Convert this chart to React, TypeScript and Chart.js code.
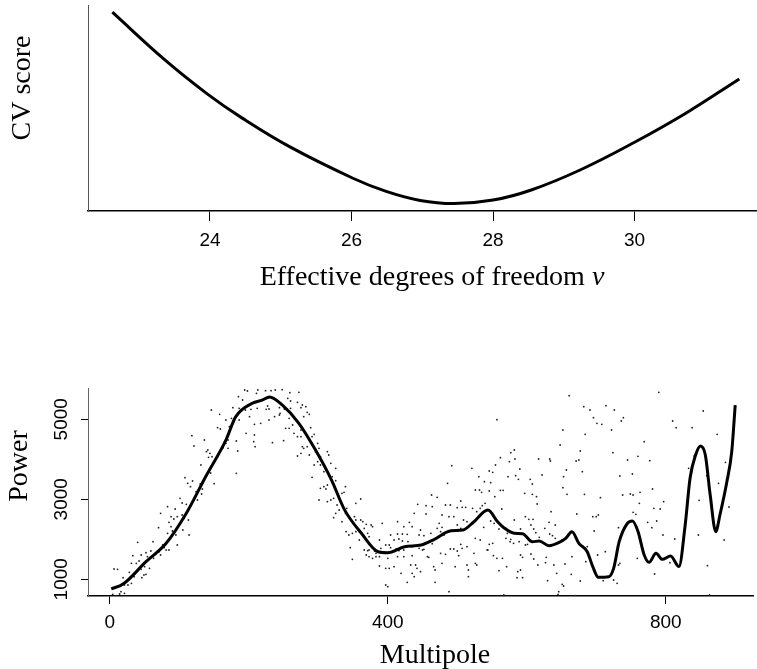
import React, { useEffect, useRef } from 'react';
import { Chart, registerables } from 'chart.js';

Chart.register(...registerables);

// ---------- Top panel: CV score against effective degrees of freedom ----------
const DOF = [22.62, 23.35, 23.97, 24.45, 25.13, 26.02, 26.49, 26.97, 27.45, 28.0, 28.54, 29.23, 29.98, 30.73, 31.48];
const CV_SCORE = [0.965, 0.737, 0.566, 0.452, 0.311, 0.159, 0.095, 0.051, 0.036, 0.053, 0.102, 0.199, 0.33, 0.476, 0.641];
const DOF_TICKS = [24, 26, 28, 30];

// ---------- Bottom panel: power spectrum ----------
const FIT_MULTIPOLE = [2, 19, 52, 81, 110, 138, 167, 181, 205, 219, 230, 248, 272, 296, 319, 338, 362, 386, 400, 424,
  448, 467, 491, 508, 524, 544, 558, 567, 582, 594, 608, 618, 632, 646, 656, 665, 675, 687, 695, 703,
  718, 725, 733, 744, 752, 760, 769, 776, 786, 795, 807, 819, 828, 835, 843, 850, 857, 864, 872, 878,
  888, 895, 900];
const FIT_POWER = [760, 880, 1440, 1900, 2650, 3570, 4480, 5060, 5400, 5480, 5560, 5360, 4900, 4230, 3480, 2730, 2150, 1690, 1665, 1815,
  1857, 2000, 2215, 2232, 2440, 2730, 2440, 2290, 2150, 2140, 1940, 1957, 1840, 1915, 2024, 2190, 1900, 1690, 1315, 1050,
  1065, 1274, 1940, 2380, 2457, 2200, 1607, 1424, 1649, 1499, 1582, 1317, 2357, 3524, 4107, 4332, 4107, 3107, 2190, 2607,
  3440, 4190, 5357];

const OBS_MULTIPOLE = [
  146, 158, 155, 159, 118, 136, 121, 141, 139, 144,
  147, 142, 148, 131, 145, 150, 108, 112, 119, 116,
  130, 133, 124, 132, 126, 121, 101, 104, 110, 83,
  73, 94, 88, 97, 92, 85, 107, 113, 104, 70,
  88, 90, 95, 105, 114, 83, 62, 40, 76, 78,
  81, 85, 97, 59, 71, 66, 73, 63, 54, 52,
  45, 33, 38, 31, 42, 50, 45, 57, 49, 52,
  46, 35, 28, 19, 21, 26, 31, 6, 11, 16,
  21, 9, 14, 4,
  194, 198, 213, 211, 224, 232, 238, 248, 259, 272,
  185, 191, 256, 260, 203, 270, 277, 282, 177, 186,
  195, 203, 212, 225, 227, 229, 244, 251, 260, 275,
  284, 287, 279, 201, 237, 244, 245, 258, 167, 175,
  186, 208, 217, 229, 253, 258, 263, 275, 289, 172,
  196, 208, 265, 270, 275, 291, 294, 170, 165, 167,
  182, 207, 234, 250, 163, 170, 184, 209, 277, 279,
  284, 291, 299, 301, 296, 275, 287, 270, 313, 315,
  303, 299, 294, 303, 318, 325, 308, 182, 291, 320,
  325, 308, 303, 311, 313, 339, 334, 337, 301, 313,
  318, 322, 327, 330, 325, 322, 339, 341, 344, 334,
  340, 344, 349, 346, 349, 330,
  492, 521, 531, 486, 539, 526, 532, 535, 540, 536,
  463, 471, 361, 354, 505, 500, 507, 512, 522, 528,
  533, 443, 455, 464, 483, 490, 455, 478, 488, 495,
  438, 509, 514, 354, 352, 361, 364, 369, 376, 378,
  392, 414, 431, 423, 435, 474, 471, 478, 500, 505,
  447, 354, 359, 366, 371, 373, 404, 414, 421, 428,
  416, 421, 429, 409, 359, 388, 445, 452, 462, 476,
  481, 538, 526, 533, 366, 371, 373, 381, 383, 390,
  397, 402, 404, 412, 416, 423, 435, 445, 450, 452,
  464, 490, 495, 500, 507, 514, 505, 369, 373, 378,
  383, 388, 400, 414, 423, 435, 457, 459, 476, 483,
  502, 524, 543, 388, 397, 402, 409, 433, 440, 442,
  447, 466, 468, 478, 497, 514, 516, 528, 526, 419,
  435, 438, 516, 397, 400, 428, 468, 488,
  661, 682, 691, 714, 726, 696, 701, 708, 557, 722,
  652, 684, 648, 582, 577, 562, 575, 583, 617, 633,
  634, 671, 675, 677, 724, 555, 546, 551, 590, 657,
  680, 622, 653, 573, 584, 588, 605, 608, 548, 652,
  562, 566, 546, 554, 597, 608, 614, 658, 683, 706,
  734, 615, 564, 635, 672, 695, 700, 703, 598, 603,
  609, 582, 548, 553, 632, 641, 606, 610, 560, 591,
  626, 732, 697, 613, 633, 637, 572, 570, 577, 576,
  589, 581, 618, 641, 651, 598, 601, 546, 551, 687,
  713, 544, 552, 557, 565, 591, 594, 606, 610, 628,
  655, 665, 685, 702, 616, 627, 639, 571, 560, 587,
  591, 586, 594, 643, 664, 630, 651, 653, 677, 710,
  730, 725, 732, 734, 646, 645, 567, 670,
  790, 854, 739, 736, 810, 815, 838, 874, 769, 760,
  745, 777, 841, 886, 833, 752, 859, 876, 781, 763,
  738, 749, 753, 797, 762, 848, 891, 783, 792, 753,
  757, 774, 787, 780, 796, 813, 847, 884, 759, 806,
  784, 860, 863,
];

const OBS_POWER = [
  5232, 5124, 4790, 4757, 4590, 4482, 4332, 4232, 4190, 4149,
  4065, 4049, 3890, 3857, 3657, 3390, 3540, 3399, 3457, 3315,
  3382, 3257, 3190, 3132, 2982, 2982, 3024, 2907, 2874, 2815,
  2649, 2757, 2565, 2565, 2507, 2424, 2524, 2482, 2607, 2290,
  2315, 2207, 2107, 2232, 2107, 2149, 1940, 1924, 1857, 1790,
  1732, 1732, 1857, 1707, 1690, 1624, 1607, 1524, 1565, 1665,
  1607, 1590, 1399, 1399, 1457, 1315, 1249, 1274, 1107, 1124,
  1040, 1065, 1174, 1040, 857, 857, 899, 1257, 1249, 690,
  649, 590, 632, 624,
  5732, 5707, 5732, 5649, 5715, 5715, 5732, 5740, 5665, 5674,
  5565, 5482, 5524, 5457, 5399, 5424, 5357, 5315, 5290, 5274,
  5232, 5249, 5274, 5249, 5332, 5257, 5290, 5257, 5274, 5290,
  5174, 5124, 5065, 5065, 5065, 5107, 5149, 5024, 4982, 5024,
  4982, 4874, 4899, 4982, 4774, 4774, 4857, 4732, 4790, 4815,
  4649, 4607, 4649, 4565, 4565, 4565, 4624, 4482, 4440, 4399,
  4457, 4440, 4415, 4465, 4290, 4274, 4207, 4315, 4315, 4274,
  4315, 4399, 4399, 4274, 4190, 4149, 4107, 4082, 4190, 4107,
  4065, 3940, 3857, 3857, 3899, 3774, 3690, 3649, 3549, 3565,
  3465, 3315, 3274, 3257, 3357, 3315, 3149, 3174, 2982, 2940,
  2982, 3024, 2857, 2732, 2649, 2540, 2649, 2774, 2565, 2440,
  2190, 2107, 2149, 1790, 1499, 3065,
  3840, 3774, 3565, 3399, 3440, 3232, 3232, 3174, 2899, 2840,
  3107, 3049, 3007, 2899, 2957, 2790, 2799, 2799, 2774, 2690,
  2774, 2874, 2840, 2815, 2857, 2857, 2632, 2607, 2565, 2565,
  2649, 2482, 2440, 2482, 2565, 2482, 2440, 2374, 2357, 2315,
  2399, 2440, 2424, 2315, 2315, 2399, 2274, 2299, 2357, 2274,
  2232, 2190, 2190, 2274, 2149, 2065, 2107, 2132, 2132, 2124,
  2007, 1957, 1940, 1982, 1982, 1982, 2107, 2090, 2149, 2190,
  2107, 2299, 2024, 1982, 1732, 1715, 1732, 1707, 1649, 1774,
  1857, 1857, 1790, 1757, 1715, 1732, 1815, 1774, 1732, 1749,
  1890, 1757, 1757, 1707, 1774, 1815, 1874, 1607, 1565, 1524,
  1565, 1565, 1524, 1565, 1565, 1590, 1565, 1549, 1649, 1624,
  1590, 1649, 1732, 1332, 1274, 1274, 1315, 1357, 1357, 1274,
  1190, 1315, 1232, 1399, 1315, 1357, 1232, 1357, 1399, 1149,
  1149, 1065, 1065, 857, 815, 924, 924, 690,
  5590, 5315, 5232, 5340, 5232, 5040, 4899, 4874, 4990, 4732,
  4732, 4624, 4357, 4232, 4165, 4040, 3940, 4007, 4007, 4007,
  3957, 3957, 3982, 4207, 4165, 3857, 3707, 3674, 3757, 3732,
  3690, 3607, 3565, 3565, 3590, 3499, 3499, 3382, 3415, 3290,
  3224, 3224, 3207, 3065, 3149, 3124, 3065, 3124, 3124, 3040,
  3582, 2882, 2757, 2690, 2632, 2565, 2565, 2607, 2565, 2499,
  2499, 2482, 2457, 2399, 2424, 2357, 2357, 2257, 2257, 2257,
  2274, 2290, 2207, 2165, 2132, 2090, 2149, 2024, 1999, 1940,
  1940, 1899, 2049, 2024, 1982, 1857, 1874, 1874, 1899, 1815,
  1690, 1732, 1590, 1524, 1524, 1607, 1549, 1632, 1507, 1549,
  1382, 1565, 1440, 1607, 1357, 1415, 1357, 1315, 1215, 1190,
  1232, 1040, 1040, 1149, 1124, 965, 874, 832, 957, 965,
  899, 982, 1357, 1399, 690, 624, 607, 590,
  5674, 5207, 5040, 4957, 4957, 4790, 4790, 4624, 4440, 4074,
  3982, 3965, 4082, 3924, 3774, 3632, 3590, 3399, 3257, 3174,
  3107, 3132, 3107, 2940, 2899, 2974, 2807, 2774, 2757, 2674,
  2624, 2424, 2457, 2290, 2107, 2007, 2107, 1982, 1524, 1415,
  1132, 1340, 607,
];
const MULTIPOLE_TICKS = [0, 400, 800];
const POWER_TICKS = [1000, 3000, 5000];

const SERIF = '"Liberation Serif", "Times New Roman", serif';
const SANS = '"Liberation Sans", Arial, sans-serif';

type TitleSpec = { text: string; italic?: string; x: number; y: number; rotate?: boolean };

function makeTitles(id: string, items: TitleSpec[]) {
  return {
    id,
    afterDraw(chart: any) {
      const ctx = chart.ctx as CanvasRenderingContext2D;
      ctx.save();
      ctx.fillStyle = '#000';
      ctx.textBaseline = 'alphabetic';
      ctx.textAlign = 'left';
      for (const t of items) {
        ctx.save();
        ctx.translate(t.x, t.y);
        if (t.rotate) ctx.rotate(-Math.PI / 2);
        ctx.font = `28px ${SERIF}`;
        const w1 = ctx.measureText(t.text).width;
        let w2 = 0;
        if (t.italic) {
          ctx.font = `italic 28px ${SERIF}`;
          w2 = ctx.measureText(t.italic).width;
        }
        const start = -(w1 + w2) / 2;
        ctx.font = `28px ${SERIF}`;
        ctx.fillText(t.text, start, 0);
        if (t.italic) {
          ctx.font = `italic 28px ${SERIF}`;
          ctx.fillText(t.italic, start + w1, 0);
        }
        ctx.restore();
      }
      ctx.restore();
    },
  };
}

const plainLabel = (v: any) => String(v);

export default function App() {
  const topRef = useRef<HTMLCanvasElement>(null);
  const botRef = useRef<HTMLCanvasElement>(null);

  useEffect(() => {
    const topChart = new Chart(topRef.current as HTMLCanvasElement, {
      type: 'line',
      data: {
        datasets: [
          {
            data: DOF.map((x, i) => ({ x, y: CV_SCORE[i] })),
            borderColor: '#000',
            borderWidth: 3,
            pointRadius: 0,
            tension: 0.4,
            fill: false,
          },
        ],
      },
      options: {
        responsive: false,
        animation: false,
        events: [],
        layout: { padding: { top: 5, left: 0, right: 0, bottom: 0 } },
        plugins: { legend: { display: false }, tooltip: { enabled: false } },
        scales: {
          x: {
            type: 'linear',
            min: 22.276,
            max: 31.73,
            afterBuildTicks: (s: any) => {
              s.ticks = DOF_TICKS.map((v) => ({ value: v }));
            },
            afterFit: (s: any) => {
              s.height = 109;
            },
            grid: { display: true, drawOnChartArea: false, drawTicks: true, tickLength: 10, color: '#000', lineWidth: 1 },
            border: { display: true, color: '#000', width: 1.5 },
            ticks: { color: '#000', font: { family: SANS, size: 19 }, padding: 8, maxRotation: 0, autoSkip: false, callback: plainLabel },
          },
          y: {
            type: 'linear',
            min: 0,
            max: 1,
            afterFit: (s: any) => {
              s.width = 88;
            },
            grid: { display: false },
            border: { display: true, color: '#555', width: 1 },
            ticks: { display: false },
          },
        },
      } as any,
      plugins: [
        makeTitles('topTitles', [
          { text: 'Effective degrees of freedom ', italic: 'ν', x: 432, y: 285 },
          { text: 'CV score', x: 30, y: 88, rotate: true },
        ]),
      ],
    });

    const botChart = new Chart(botRef.current as HTMLCanvasElement, {
      type: 'scatter',
      data: {
        datasets: [
          {
            type: 'line',
            data: FIT_MULTIPOLE.map((x, i) => ({ x, y: FIT_POWER[i] })),
            borderColor: '#000',
            borderWidth: 3,
            pointRadius: 0,
            tension: 0.4,
            cubicInterpolationMode: 'monotone',
            fill: false,
            order: 0,
          } as any,
          {
            data: OBS_MULTIPOLE.map((x, i) => ({ x, y: OBS_POWER[i] })),
            pointRadius: 0.9,
            pointBorderWidth: 0,
            backgroundColor: '#222',
            borderColor: '#222',
            showLine: false,
            order: 1,
          },
        ],
      },
      options: {
        responsive: false,
        animation: false,
        events: [],
        layout: { padding: { top: 68, left: 0, right: 0, bottom: 0 } },
        plugins: { legend: { display: false }, tooltip: { enabled: false } },
        scales: {
          x: {
            type: 'linear',
            min: -31.5,
            max: 925.6,
            afterBuildTicks: (s: any) => {
              s.ticks = MULTIPOLE_TICKS.map((v) => ({ value: v }));
            },
            afterFit: (s: any) => {
              s.height = 73;
            },
            grid: { display: true, drawOnChartArea: false, drawTicks: true, tickLength: 8, color: '#000', lineWidth: 1 },
            border: { display: true, color: '#000', width: 1.5 },
            ticks: { color: '#000', font: { family: SANS, size: 19 }, padding: 7, maxRotation: 0, autoSkip: false, callback: plainLabel },
          },
          y: {
            type: 'linear',
            min: 582.5,
            max: 5782.5,
            afterBuildTicks: (s: any) => {
              s.ticks = POWER_TICKS.map((v) => ({ value: v }));
            },
            afterFit: (s: any) => {
              s.width = 88;
            },
            grid: { display: true, drawOnChartArea: false, drawTicks: true, tickLength: 7, color: '#000', lineWidth: 1 },
            border: { display: true, color: '#666', width: 1 },
            ticks: {
              color: '#000',
              font: { family: SANS, size: 19 },
              padding: -2,
              minRotation: 90,
              maxRotation: 90,
              crossAlign: 'center',
              autoSkip: false,
              callback: plainLabel,
            },
          },
        },
      } as any,
      plugins: [
        makeTitles('botTitles', [
          { text: 'Multipole', x: 435, y: 343 },
          { text: 'Power', x: 27, y: 146, rotate: true },
        ]),
      ],
    });

    return () => {
      topChart.destroy();
      botChart.destroy();
    };
  }, []);

  return (
    <div style={{ position: 'absolute', left: 0, top: 0, width: 757, height: 669, background: '#fff' }}>
      <canvas ref={topRef} width={757} height={320} style={{ position: 'absolute', left: 0, top: 0 }} />
      <canvas ref={botRef} width={757} height={349} style={{ position: 'absolute', left: 0, top: 320 }} />
    </div>
  );
}
